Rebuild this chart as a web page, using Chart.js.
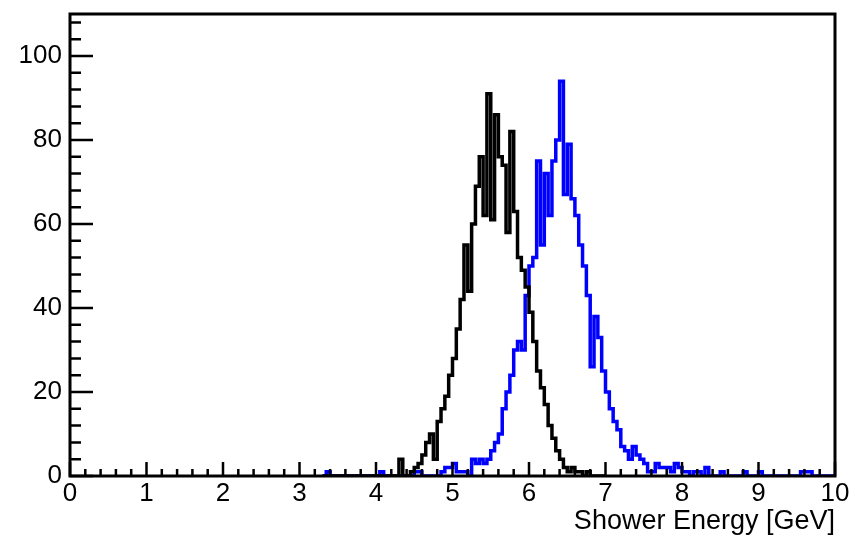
<!DOCTYPE html>
<html>
<head>
<meta charset="utf-8">
<script src="https://cdn.jsdelivr.net/npm/chart.js@4.4.0/dist/chart.umd.min.js"></script>
<style>
html, body { margin: 0; padding: 0; background: #fff; }
#wrap { width: 854px; height: 536px; }
</style>
</head>
<body>
<div id="wrap"><canvas id="energyHist" width="854" height="536"></canvas></div>
<script>
// binning of both histograms (GeV), first bin starts at binStart
var binStart = 3.3;
var binWidth = 0.05;

// black histogram, counts per bin from 3.30 GeV
var blackCounts = [
    0, 0, 0, 0, 0, 0, 0, 0, 0, 0, 0, 0, 0, 0,
    0, 0, 0, 0, 0, 0, 4, 0, 0, 1,
    2, 3, 5, 8, 10, 4, 13, 16, 19, 24,
    28, 35, 42, 55, 44, 60, 69, 76, 62, 91,
    61, 86, 76, 74, 58, 82, 63, 52, 49, 45,
    39, 32, 25, 21, 17, 12, 9, 6, 4, 2,
    1, 2, 1, 1, 0, 1, 0, 0, 0, 0
];

// blue histogram, counts per bin from 3.30 GeV
var blueCounts = [
    0, 1, 0, 0, 0, 0, 0, 0, 0, 0, 0, 0, 0, 0,
    0, 1, 0, 0, 0, 0, 0, 0, 0, 0,
    1, 1, 0, 0, 0, 0, 0, 1, 2, 2,
    3, 1, 1, 1, 0, 4, 3, 4, 3, 4,
    6, 8, 10, 16, 20, 24, 30, 32, 30, 43,
    50, 52, 75, 55, 72, 62, 75, 80, 94, 67,
    79, 66, 62, 55, 50, 43, 26, 38, 33, 25,
    20, 16, 13, 11, 7, 6, 4, 7, 5, 4,
    3, 1, 1, 3, 2, 2, 2, 1, 3, 2,
    1, 1, 0, 1, 1, 0, 2, 0, 0, 0,
    1, 0, 0, 0, 0, 0, 1, 0, 0, 0,
    1, 0, 0, 0, 0, 0, 0, 0, 0, 0,
    0, 1, 1, 1, 0, 0, 0, 0, 0, 0
];

var xTickLabels = [0, 1, 2, 3, 4, 5, 6, 7, 8, 9, 10];
var yTickLabels = [0, 20, 40, 60, 80, 100];
var xTitle = 'Shower Energy [GeV]';

var fontFamily = '"Liberation Sans", Arial, Helvetica, sans-serif';

// turn counts into step points at bin low edges (+ closing edge)
function toSteps(counts) {
    var pts = [];
    for (var i = 0; i < counts.length; i++) {
        pts.push({ x: binStart + i * binWidth, y: counts[i] });
    }
    pts.push({ x: binStart + counts.length * binWidth, y: 0 });
    return pts;
}

// ROOT-like frame with ticks pointing inward
var frameTicks = {
    id: 'frameTicks',
    afterDatasetsDraw: function (chart) {
        var ctx = chart.ctx;
        var a = chart.chartArea;
        var xs = chart.scales.x;
        var ys = chart.scales.y;
        ctx.save();
        ctx.strokeStyle = '#000';
        ctx.lineWidth = 2.5;
        ctx.beginPath();
        for (var i = 0; i <= 50; i++) {
            var v = i * 0.2;
            var px = xs.getPixelForValue(v);
            var len = (i % 5 === 0) ? 14 : 7;
            ctx.moveTo(px, a.bottom);
            ctx.lineTo(px, a.bottom - len);
        }
        for (var j = 0; j <= 27; j++) {
            var val = j * 4;
            var py = ys.getPixelForValue(val);
            var l = (j % 5 === 0) ? 23 : 11;
            ctx.moveTo(a.left, py);
            ctx.lineTo(a.left + l, py);
        }
        ctx.stroke();
        ctx.lineWidth = 3;
        ctx.strokeRect(a.left, a.top, a.right - a.left, a.bottom - a.top);
        ctx.restore();
    }
};

var ctx = document.getElementById('energyHist').getContext('2d');
var chart = new Chart(ctx, {
    type: 'line',
    data: {
        datasets: [{
            label: 'black',
            data: toSteps(blackCounts),
            borderColor: '#000000',
            borderWidth: 3.5,
            stepped: 'before',
            pointRadius: 0,
            fill: false
        }, {
            label: 'blue',
            data: toSteps(blueCounts),
            borderColor: '#0000ff',
            borderWidth: 3.5,
            stepped: 'before',
            pointRadius: 0,
            fill: false
        }]
    },
    options: {
        responsive: false,
        animation: false,
        devicePixelRatio: 1,
        layout: { padding: { top: 14, right: 19, left: 0, bottom: 0 } },
        plugins: {
            legend: { display: false },
            tooltip: { enabled: false }
        },
        scales: {
            x: {
                type: 'linear',
                min: 0,
                max: 10,
                afterFit: function (s) {
                    s.height = 60;
                    s.paddingLeft = 0;
                    s.paddingRight = 0;
                },
                grid: { display: false, drawTicks: false },
                border: { display: false },
                afterBuildTicks: function (s) {
                    s.ticks = xTickLabels.map(function (v) { return { value: v }; });
                },
                ticks: {
                    autoSkip: false,
                    maxRotation: 0,
                    padding: 2,
                    color: '#000',
                    font: { family: fontFamily, size: 26 }
                },
                title: {
                    display: true,
                    text: xTitle,
                    align: 'end',
                    color: '#000',
                    padding: 0,
                    font: { family: fontFamily, size: 27, lineHeight: 1.1 }
                }
            },
            y: {
                min: 0,
                max: 110,
                afterFit: function (s) {
                    s.width = 70;
                    s.paddingTop = 0;
                    s.paddingBottom = 0;
                },
                grid: { display: false, drawTicks: false },
                border: { display: false },
                afterBuildTicks: function (s) {
                    s.ticks = yTickLabels.map(function (v) { return { value: v }; });
                },
                ticks: {
                    padding: 8,
                    color: '#000',
                    font: { family: fontFamily, size: 26 }
                }
            }
        }
    },
    plugins: [frameTicks]
});
</script>
</body>
</html>
